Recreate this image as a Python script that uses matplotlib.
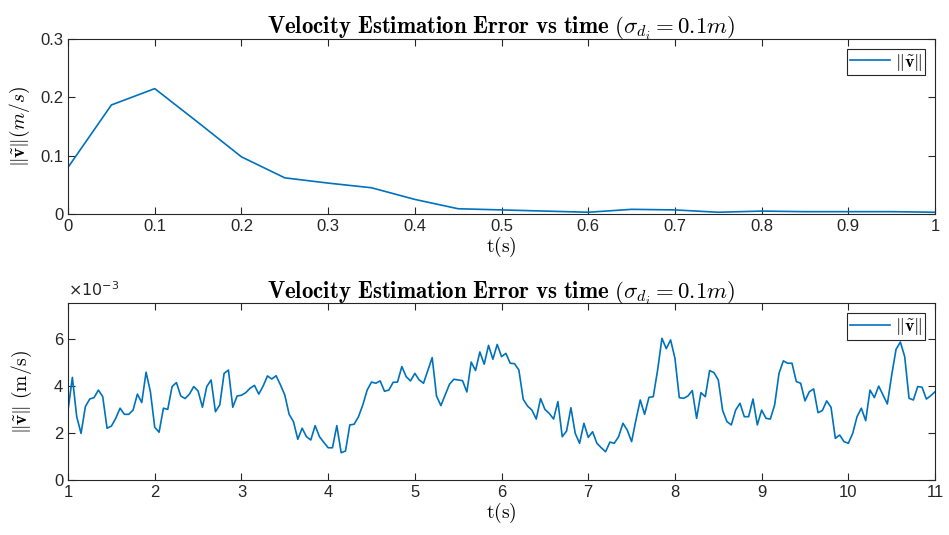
import numpy as np
import matplotlib
matplotlib.use("Agg")
from matplotlib import pyplot as plt

plt.rcParams['font.family'] = ['Liberation Sans', 'DejaVu Sans']
plt.rcParams['mathtext.fontset'] = 'cm'

# top panel: first second, sampled every 0.05 s
t_top = [0.00, 0.05, 0.10, 0.15, 0.20, 0.25, 0.30, 0.35, 0.40, 0.45, 0.50,
         0.55, 0.60, 0.65, 0.70, 0.75, 0.80, 0.85, 0.90, 0.95, 1.00]
v_top = [0.080, 0.187, 0.215, 0.157, 0.098, 0.062, 0.053, 0.045, 0.025, 0.009, 0.007,
         0.005, 0.003, 0.008, 0.007, 0.003, 0.005, 0.004, 0.004, 0.004, 0.003]

# bottom panel: 1 s .. 11 s every 0.05 s, values in units of 1e-3 m/s
v_1_3 = [2.97, 4.36, 2.69, 1.98, 3.12, 3.44, 3.50, 3.82, 3.54, 2.20,
         2.29, 2.62, 3.05, 2.79, 2.79, 2.97, 3.65, 3.29, 4.58, 3.75,
         2.24, 2.03, 3.05, 3.00, 3.97, 4.14, 3.57, 3.46, 3.65, 3.97,
         3.78, 3.09, 3.97, 4.25, 2.90, 3.19, 4.53, 4.67, 3.09, 3.57]
v_3_5 = [3.60, 3.71, 3.90, 4.02, 3.65, 3.99, 4.42, 4.29, 4.43, 4.04,
         3.61, 2.79, 2.48, 1.73, 2.20, 1.84, 1.70, 2.31, 1.84, 1.60,
         1.37, 1.37, 2.31, 1.16, 1.23, 2.34, 2.37, 2.69, 3.19, 3.82,
         4.16, 4.11, 4.21, 3.77, 3.82, 4.15, 4.16, 4.82, 4.39, 4.21]
v_5_7 = [4.53, 4.25, 4.11, 4.65, 5.20, 3.57, 3.16, 3.61, 4.07, 4.28,
         4.25, 4.22, 3.74, 5.01, 4.65, 5.44, 4.92, 5.72, 5.13, 5.76,
         5.24, 5.38, 4.96, 4.94, 4.67, 3.43, 3.14, 2.97, 2.59, 3.46,
         3.00, 2.83, 2.59, 3.33, 1.84, 2.08, 3.07, 1.98, 1.56, 2.41]
v_7_9 = [1.81, 2.05, 1.56, 1.37, 1.20, 1.61, 1.56, 1.84, 2.41, 2.12,
         1.63, 2.55, 3.40, 2.79, 3.51, 3.54, 4.67, 6.02, 5.58, 5.95,
         5.17, 3.50, 3.47, 3.57, 3.80, 2.62, 3.71, 3.54, 4.65, 4.56,
         4.25, 2.95, 2.48, 2.34, 2.97, 3.26, 2.69, 2.69, 3.44, 2.34]
v_9_11 = [2.97, 2.62, 2.59, 3.19, 4.53, 5.06, 4.96, 4.96, 4.18, 4.11,
          3.36, 3.75, 3.87, 2.86, 2.95, 3.36, 3.09, 1.77, 1.91, 1.63,
          1.56, 1.98, 2.69, 3.05, 2.52, 3.82, 3.50, 3.99, 3.61, 3.23,
          4.46, 5.55, 5.86, 5.24, 3.47, 3.40, 3.97, 3.94, 3.44, 3.58, 3.75]
v_bot = v_1_3 + v_3_5 + v_5_7 + v_7_9 + v_9_11
t_bot = np.round(np.linspace(1, 11, len(v_bot)), 2)

title = r'$\mathbf{Velocity\ Estimation\ Error\ vs\ time}\ (\sigma_{d_i}=0.1m)$'
leg_label = r'$\|\tilde{\mathbf{v}}\|$'
line_col = '#0072BD'
edge = '#262626'

fig = plt.figure(figsize=(9.49, 5.35), dpi=100)
ax1 = fig.add_axes([0.0717, 0.600, 0.9136, 0.327])
ax2 = fig.add_axes([0.0717, 0.1028, 0.9136, 0.330])

for ax in (ax1, ax2):
    for s in ax.spines.values():
        s.set_color(edge)
        s.set_linewidth(0.8)
    ax.tick_params(direction='in', top=True, right=True, length=5,
                   color=edge, labelcolor=edge, labelsize=12, width=0.8)

ax1.plot(t_top, v_top, color=line_col, lw=1.2, label=leg_label)
ax1.set_xlim(0, 1)
ax1.set_ylim(0, 0.3)
ax1.set_xticks(np.arange(0, 1.01, 0.1))
ax1.set_xticklabels(['0', '0.1', '0.2', '0.3', '0.4', '0.5', '0.6', '0.7', '0.8', '0.9', '1'])
ax1.set_yticks([0, 0.1, 0.2, 0.3])
ax1.set_yticklabels(['0', '0.1', '0.2', '0.3'])
ax1.set_title(title, fontsize=16.5, color='black', pad=4)
ax1.set_xlabel(r'$\mathrm{t(s)}$', fontsize=14, labelpad=1)
ax1.set_ylabel(r'$\|\tilde{\mathbf{v}}\|(m/s)$', fontsize=14, labelpad=6)

ax2.plot(t_bot, v_bot, color=line_col, lw=1.2, label=leg_label)
ax2.set_xlim(1, 11)
ax2.set_ylim(0, 7.5)
ax2.set_xticks(range(1, 12))
ax2.set_yticks([0, 2, 4, 6])
ax2.set_title(title, fontsize=16.5, color='black', pad=4)
ax2.set_xlabel(r'$\mathrm{t(s)}$', fontsize=14, labelpad=1)
ax2.set_ylabel(r'$\|\tilde{\mathbf{v}}\|\ \mathrm{(m/s)}$', fontsize=14, labelpad=14)
ax2.text(0.0, 1.025, r'$\times10^{-3}$', transform=ax2.transAxes, fontsize=11.5,
         color=edge, math_fontfamily='dejavusans', va='bottom', ha='left')

for ax in (ax1, ax2):
    leg = ax.legend(loc='upper right', fancybox=False, framealpha=1,
                    edgecolor=edge, fontsize=13, handlelength=2.2,
                    borderaxespad=0.55, borderpad=0.15, handletextpad=0.3)
    leg.get_frame().set_linewidth(0.8)

fig.savefig('out.png', dpi=100, facecolor='white')
